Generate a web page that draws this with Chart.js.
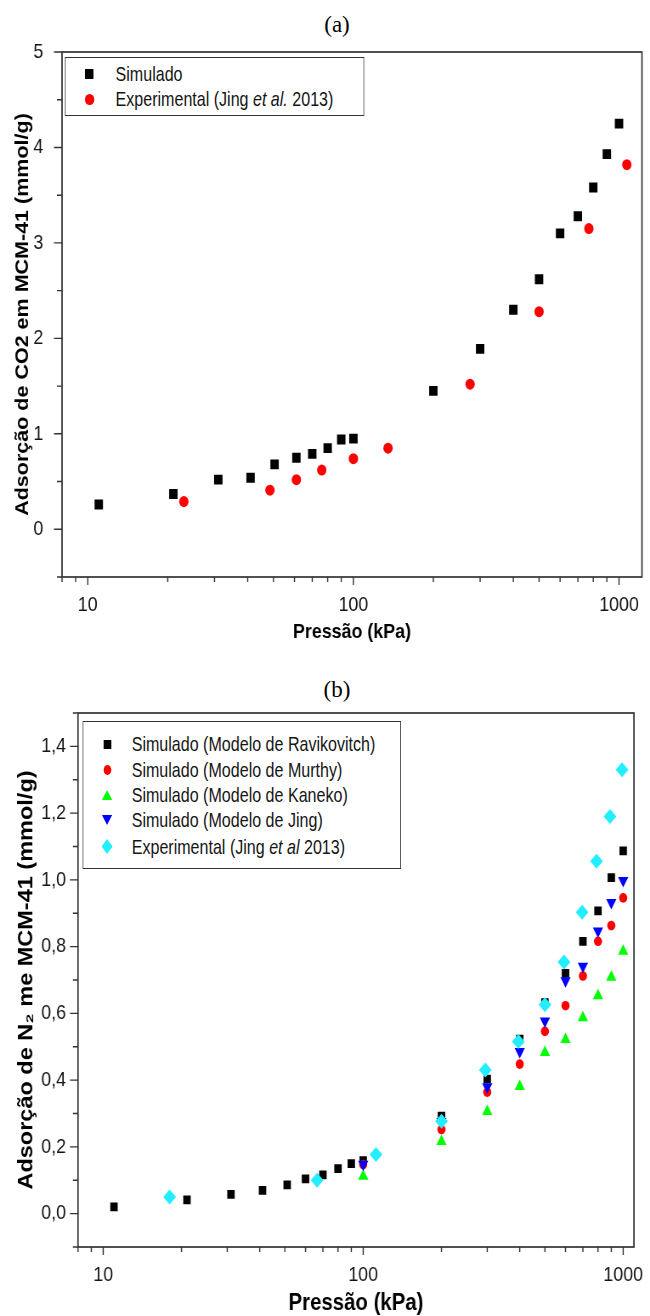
<!DOCTYPE html>
<html>
<head>
<meta charset="utf-8">
<script src="https://cdn.jsdelivr.net/npm/chart.js@4.4.1/dist/chart.umd.min.js"></script>
<style>
html,body{margin:0;padding:0;background:#fff;}
body{width:650px;height:1316px;position:relative;overflow:hidden;}
.cap{position:absolute;left:0;width:674px;text-align:center;font-family:'Liberation Serif','Times New Roman',serif;font-size:23px;color:#000;line-height:26px;}
.wrap{position:absolute;left:0;width:765px;transform:scaleX(0.8497);transform-origin:0 0;}
.cv{position:absolute;left:0;top:0;width:765px;height:100%;}
.legend{position:absolute;border:1.6px solid #333;background:#fff;box-sizing:border-box;font-family:'Liberation Sans',Arial,sans-serif;font-size:21px;color:#151515;}
.tx{position:absolute;white-space:nowrap;height:24px;line-height:24px;transform:scaleX(0.9);transform-origin:0 50%;}
.mk{position:absolute;}
.sq{background:#000;}
.ci{background:#ff0000;border-radius:50%;}
.tu{width:0;height:0;border-left:6.5px solid transparent;border-right:6.5px solid transparent;border-bottom:10px solid #00ff00;}
.td{width:0;height:0;border-left:6.5px solid transparent;border-right:6.5px solid transparent;border-top:10px solid #0000ff;}
.di{background:#22eeff;clip-path:polygon(50% 0,100% 50%,50% 100%,0 50%);}
</style>
</head>
<body>
<div class="cap" style="top:12px">(a)</div>
<div class="cap" style="top:677px">(b)</div>

<div class="wrap" id="wa" style="top:0;height:650px;">
  <div class="cv"><canvas id="ca"></canvas></div>
  <div class="legend" style="left:76px;top:57px;width:353px;height:59px;">
    <div class="mk sq" style="left:23px;top:11px;width:10px;height:10px;"></div>
    <div class="tx" style="left:59px;top:4px;">Simulado</div>
    <div class="mk ci" style="left:22.5px;top:35.5px;width:11px;height:11px;"></div>
    <div class="tx" style="left:59px;top:29px;">Experimental (Jing <i>et al.</i> 2013)</div>
  </div>
</div>

<div class="wrap" id="wb" style="top:660px;height:660px;">
  <div class="cv"><canvas id="cb"></canvas></div>
  <div class="legend" style="left:97px;top:61px;width:375px;height:148px;">
    <div class="mk sq" style="left:23.5px;top:18px;width:9px;height:9px;"></div>
    <div class="tx" style="left:57px;top:10px;">Simulado (Modelo de Ravikovitch)</div>
    <div class="mk ci" style="left:23.5px;top:43px;width:9px;height:10px;"></div>
    <div class="tx" style="left:57px;top:36px;">Simulado (Modelo de Murthy)</div>
    <div class="mk tu" style="left:21.5px;top:68px;"></div>
    <div class="tx" style="left:57px;top:61px;">Simulado (Modelo de Kaneko)</div>
    <div class="mk td" style="left:21.5px;top:93px;"></div>
    <div class="tx" style="left:57px;top:86px;">Simulado (Modelo de Jing)</div>
    <div class="mk di" style="left:21.5px;top:117px;width:13px;height:15px;"></div>
    <div class="tx" style="left:57px;top:113px;">Experimental (Jing <i>et al</i> 2013)</div>
  </div>
</div>

<script>
// ---------- Data: chart (a) CO2 ----------
const simA_x = [11, 21, 31, 41, 50.5, 61, 70, 80, 90, 100, 200, 300, 400, 500, 600, 700, 800, 900, 1000];
const simA_y = [0.26, 0.37, 0.52, 0.54, 0.68, 0.75, 0.79, 0.85, 0.94, 0.95, 1.45, 1.89, 2.30, 2.62, 3.10, 3.28, 3.58, 3.93, 4.25];
const expA_x = [23, 48.5, 61, 76, 100, 135, 275, 500, 770, 1070];
const expA_y = [0.29, 0.41, 0.52, 0.62, 0.74, 0.85, 1.52, 2.28, 3.15, 3.82];

// ---------- Data: chart (b) N2 ----------
const ravik_x = [11, 21, 31, 41, 51, 60, 70, 80, 90, 100, 200, 300, 400, 500, 600, 700, 800, 900, 1000];
const ravik_y = [0.02, 0.041, 0.058, 0.07, 0.086, 0.104, 0.116, 0.135, 0.15, 0.159, 0.292, 0.403, 0.523, 0.632, 0.72, 0.816, 0.907, 1.007, 1.087];
const model_x = [100, 200, 300, 400, 500, 600, 700, 800, 900, 1000];
const murthy_y = [0.147, 0.252, 0.364, 0.448, 0.546, 0.623, 0.712, 0.816, 0.863, 0.946];
const kaneko_y = [0.112, 0.216, 0.306, 0.381, 0.483, 0.522, 0.587, 0.653, 0.708, 0.786];
const jing_y = [0.148, 0.276, 0.38, 0.486, 0.577, 0.698, 0.741, 0.847, 0.932, 0.998];
const expB_x = [18, 66.5, 112, 200, 295, 395, 500, 592, 695, 790, 890, 990];
const expB_y = [0.05, 0.10, 0.177, 0.277, 0.43, 0.516, 0.626, 0.754, 0.903, 1.056, 1.19, 1.33];

// ---------- Ticks ----------
const xTickValues = [8, 9, 10, 20, 30, 40, 50, 60, 70, 80, 90, 100, 200, 300, 400, 500, 600, 700, 800, 900, 1000];
const xLabelValues = [10, 100, 1000];
const yLabelsA = ['0', '1', '2', '3', '4', '5'];
const yLabelsB = ['0,0', '0,2', '0,4', '0,6', '0,8', '1,0', '1,2', '1,4'];

const pts = (xs, ys) => xs.map((x, i) => ({x: x, y: ys[i]}));

Chart.defaults.font.family = "'Liberation Sans', Arial, sans-serif";
Chart.defaults.color = '#151515';
const tickFamily = "'Liberation Sans Narrow', 'Arial Narrow', 'Liberation Sans', Arial, sans-serif";

const framePlugin = {
  id: 'frame',
  afterDraw(chart, args, opts) {
    const {ctx, chartArea: {left, right, top, bottom}} = chart;
    const xs = chart.scales.x, ys = chart.scales.y;
    ctx.save();
    ctx.strokeStyle = '#333';
    ctx.lineWidth = 1.7;
    ctx.strokeRect(left, top, right - left, bottom - top);
    ctx.lineWidth = 1.4;
    ctx.beginPath();
    xs.ticks.forEach(t => {
      const px = xs.getPixelForValue(t.value);
      const major = xLabelValues.includes(t.value);
      ctx.moveTo(px, bottom);
      ctx.lineTo(px, bottom + (major ? 8 : 5));
    });
    ys.ticks.forEach(t => {
      const py = ys.getPixelForValue(t.value);
      const major = opts.isMajor(t.value);
      ctx.moveTo(left, py);
      ctx.lineTo(left - (major ? 9.5 : 6), py);
    });
    ctx.stroke();
    ctx.restore();
  }
};

function makeChart(id, cfg) {
  return new Chart(document.getElementById(id), {
    type: 'scatter',
    data: {datasets: cfg.datasets},
    options: {
      responsive: true,
      maintainAspectRatio: false,
      animation: false,
      events: [],
      layout: {padding: {left: 0, right: cfg.padRight, top: cfg.padTop, bottom: 0}},
      plugins: {
        legend: {display: false},
        tooltip: {enabled: false},
        frame: {isMajor: cfg.isMajor}
      },
      scales: {
        x: {
          type: 'logarithmic',
          min: 8,
          max: cfg.xMax,
          grid: {display: false},
          border: {display: false},
          afterBuildTicks: s => { s.ticks = xTickValues.map(v => ({value: v})); },
          afterFit: s => { s.height = cfg.xHeight; },
          ticks: {
            autoSkip: false,
            maxRotation: 0,
            padding: 8,
            font: {size: 21, family: tickFamily},
            color: '#151515',
            callback: v => xLabelValues.includes(v) ? String(v) : ''
          },
          title: {
            display: true,
            text: 'Pressão (kPa)',
            color: '#000',
            font: {size: cfg.xTitleSize, weight: 'bold'},
            padding: {top: 0, bottom: cfg.xTitlePad}
          }
        },
        y: {
          min: cfg.yMin,
          max: cfg.yMax,
          grid: {display: false},
          border: {display: false},
          afterFit: s => { s.width = cfg.yWidth; },
          ticks: {
            stepSize: cfg.yStep,
            autoSkip: false,
            padding: cfg.yPad,
            font: {size: 21, family: tickFamily},
            color: '#151515',
            callback: cfg.yLabel
          },
          title: {
            display: true,
            text: cfg.yTitle,
            color: '#000',
            font: {size: cfg.yTitleSize, weight: 'bold'},
            padding: {top: cfg.yTitlePad, bottom: 0}
          }
        }
      }
    },
    plugins: [framePlugin]
  });
}

makeChart('ca', {
  datasets: [
    {label: 'Experimental (Jing et al. 2013)', data: pts(expA_x, expA_y), pointStyle: 'circle', pointRadius: 5.5, pointHoverRadius: 5.5, backgroundColor: '#ff0000', borderWidth: 0, order: 0},
    {label: 'Simulado', data: pts(simA_x, simA_y), pointStyle: 'rect', pointRadius: 7, pointHoverRadius: 7, backgroundColor: '#000000', borderWidth: 0, order: 1}
  ],
  padRight: 9.5, padTop: 52, xHeight: 73, yWidth: 73,
  xMax: 1220, yMin: -0.5, yMax: 5, yStep: 0.5, yPad: 14,
  isMajor: v => Math.abs(v - Math.round(v)) < 1e-6,
  yLabel: v => { const i = Math.round(v); return (Math.abs(v - i) < 1e-6 && i >= 0) ? yLabelsA[i] : ''; },
  xTitleSize: 21, xTitlePad: 5,
  yTitle: 'Adsorção de CO2 em MCM-41 (mmol/g)', yTitleSize: 21.5, yTitlePad: 14
});

makeChart('cb', {
  datasets: [
    {label: 'Experimental (Jing et al 2013)', data: pts(expB_x, expB_y), pointStyle: 'rectRot', pointRadius: 7.5, pointHoverRadius: 7.5, backgroundColor: '#22eeff', borderWidth: 0, order: 0},
    {label: 'Simulado (Modelo de Jing)', data: pts(model_x, jing_y), pointStyle: 'triangle', rotation: 180, pointRadius: 7, pointHoverRadius: 7, backgroundColor: '#0000ff', borderWidth: 0, order: 1},
    {label: 'Simulado (Modelo de Kaneko)', data: pts(model_x, kaneko_y), pointStyle: 'triangle', pointRadius: 7, pointHoverRadius: 7, backgroundColor: '#00ff00', borderWidth: 0, order: 2},
    {label: 'Simulado (Modelo de Murthy)', data: pts(model_x, murthy_y), pointStyle: 'circle', pointRadius: 4.8, pointHoverRadius: 4.8, backgroundColor: '#ff0000', borderWidth: 0, order: 3},
    {label: 'Simulado (Modelo de Ravikovitch)', data: pts(ravik_x, ravik_y), pointStyle: 'rect', pointRadius: 6.2, pointHoverRadius: 6.2, backgroundColor: '#000000', borderWidth: 0, order: 4}
  ],
  padRight: 12, padTop: 53, xHeight: 73, yWidth: 91.8,
  xMax: 1100, yMin: -0.1, yMax: 1.5, yStep: 0.1, yPad: 6,
  isMajor: v => Math.abs(v / 0.2 - Math.round(v / 0.2)) < 1e-6,
  yLabel: v => { const i = Math.round(v / 0.2); return (Math.abs(v / 0.2 - i) < 1e-6 && i >= 0 && i < yLabelsB.length) ? yLabelsB[i] : ''; },
  xTitleSize: 24, xTitlePad: 2.5,
  yTitle: 'Adsorção de N\u2082 me MCM-41 (mmol/g)', yTitleSize: 23.5, yTitlePad: 17
});
</script>
</body>
</html>
